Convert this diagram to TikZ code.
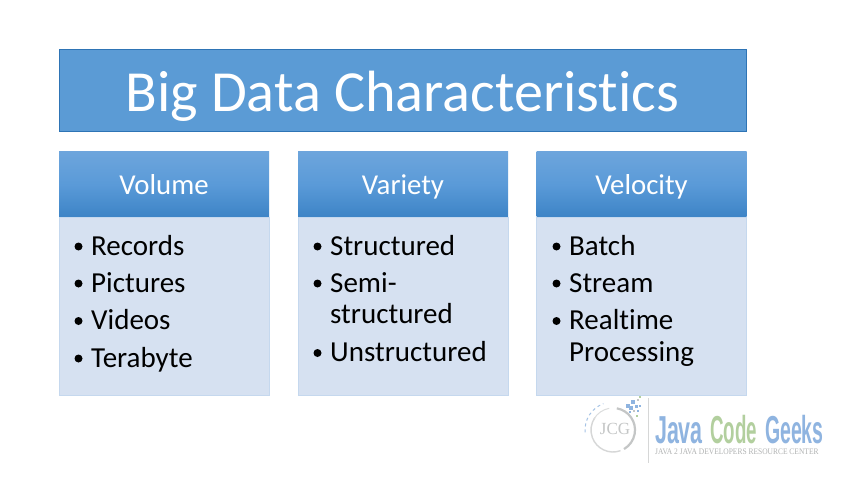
\documentclass[tikz,border=0pt]{standalone}
\usepackage{fontspec}
\setmainfont[RawFeature={-liga;-clig}]{Carlito}
\newfontfamily\logofont{Liberation Sans}
\newfontfamily\logoserif{Liberation Serif}
\usetikzlibrary{calc}
\definecolor{titleblue}{HTML}{5B9BD5}
\definecolor{titleedge}{HTML}{2E74B5}
\definecolor{headtop}{HTML}{6DA5DC}
\definecolor{headmid}{HTML}{5A9AD8}
\definecolor{headbot}{HTML}{3D84C6}
\definecolor{bodyblue}{HTML}{D6E1F1}
\definecolor{bodyedge}{HTML}{C5D8EE}
\definecolor{logoblue}{HTML}{8FB4E0}
\definecolor{logogreen}{HTML}{B2CF9E}
\definecolor{logogray}{HTML}{C4C6C6}
\tikzset{
  x=1pt,y=-1pt,
  titlebox/.style={fill=titleblue,draw=titleedge,line width=1pt,minimum width=687pt,minimum height=82pt,inner sep=0pt,text=white,text height=42pt,text depth=0pt,font=\fontsize{58.2}{58}\selectfont},
  headbox/.style={minimum width=210pt,minimum height=65pt,inner sep=0pt,text=white,text height=20pt,text depth=0pt,font=\fontsize{28.8}{28.8}\selectfont,top color=headtop,bottom color=headbot,middle color=headmid},
  bodybox/.style={minimum width=210pt,minimum height=178pt,inner sep=0pt,fill=bodyblue,draw=bodyedge,line width=.5pt},
  itemtext/.style={anchor=base west,inner sep=0pt,font=\fontsize{29}{29}\selectfont,text=black},
  bullet/.style={fill=black,circle,inner sep=0pt,minimum size=8pt},
  logoword/.style={anchor=base west,inner sep=0pt,text depth=0pt,font=\logofont\bfseries\fontsize{39}{39}\selectfont},
}
\newcommand{\bulletitem}[4]{%
  \node[bullet] (#1b) at (#2-12.5,#3-8.5) {};
  \node[itemtext] (#1) at (#2,#3) {#4};}
\begin{document}
\begin{tikzpicture}
\useasboundingbox (0,0) rectangle (850,478);
\fill[white] (0,0) rectangle (850,478);
\node[titlebox] (title) at (403,90.5) {\hspace*{-1.5pt}Big Data Characteristics};

\node[headbox] (h1) at (164,184.5) {Volume};
\node[bodybox] (b1) at (164,306) {};
\node[headbox] (h2) at (403,184.5) {Variety};
\node[bodybox] (b2) at (403,306) {};
\node[headbox] (h3) at (641.5,184.5) {Velocity};
\node[bodybox] (b3) at (641.5,306) {};

\bulletitem{a1}{91}{255}{Records}
\bulletitem{a2}{91}{292}{Pictures}
\bulletitem{a3}{91}{329.5}{Videos}
\bulletitem{a4}{91}{367}{Terabyte}

\bulletitem{c1}{330}{255}{Structured}
\bulletitem{c2}{330}{292}{Semi-}
\node[itemtext] (c2b) at (330,323.5) {structured};
\bulletitem{c3}{330}{361.5}{Unstructured}

\bulletitem{d1}{569}{255}{Batch}
\bulletitem{d2}{569}{292}{Stream}
\bulletitem{d3}{569}{329.5}{Realtime}
\node[itemtext] (d3b) at (569,361.5) {Processing};

% logo
\draw[logogray!70,line width=.8pt] (648.5,398) -- (648.5,463);
\draw[logogray,line width=2.2pt] (613,430) ++(-80:22) arc (-80:60:22);
\draw[logogray!70,line width=1.4pt] (613,430) ++(70:22) arc (70:215:22);
\draw[logogray!60,line width=1pt] (613,430) ++(-150:22) arc (-150:-100:22);
\draw[logoblue!80,line width=1pt,dashed] (613,430) ++(175:28) arc (175:250:28);
\node[inner sep=0pt,text=logogray,font=\logoserif\fontsize{17}{17}\selectfont] (jcg) at (615,429) {JCG};
\foreach \px/\py/\c/\s in {628/406/logoblue/3.5,633/402/logoblue/3.5,638/400/logogray/2.5,631/408/logoblue/3.5,636/406/logoblue/3,640/397/logogreen/2,638/411/logoblue/2.5,634/411/logogray/2,637/416/logogreen/2.5,640/406/logoblue/2,630/412/logoblue/2.5}
  \fill[\c] (\px-\s/2,\py-\s/2) rectangle ++(\s,\s);
\node[logoword,text=logoblue,xscale=.55] (jv) at (655,443) {Java};
\node[logoword,text=logogreen,xscale=.48] (cd) at (710,443) {Code};
\node[logoword,text=logoblue,xscale=.5] (gk) at (765,443) {Geeks};
\node[anchor=base west,inner sep=0pt,text=logogray!90!black,xscale=.88,text height=6pt,text depth=0pt,font=\logoserif\fontsize{8.5}{8.5}\selectfont] (sub) at (655,454) {JAVA 2 JAVA DEVELOPERS RESOURCE CENTER};
\end{tikzpicture}
\end{document}
